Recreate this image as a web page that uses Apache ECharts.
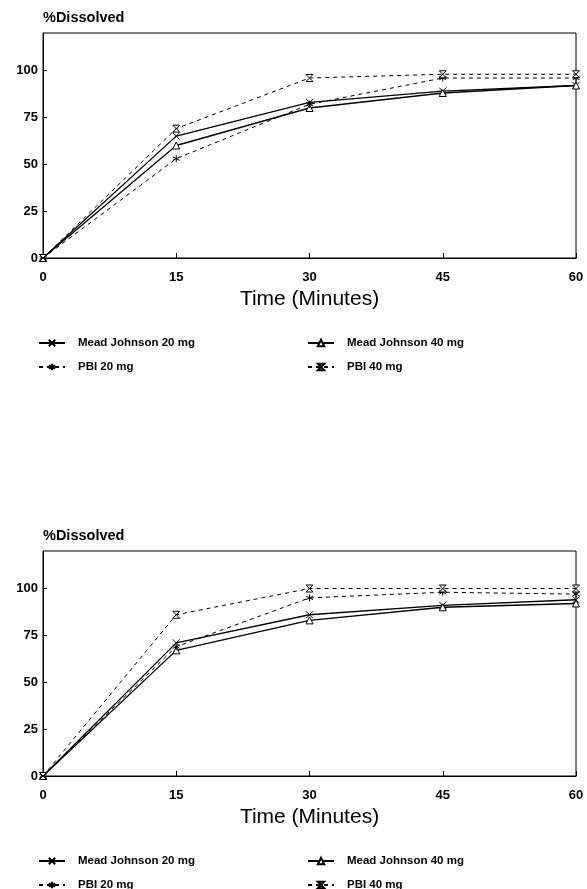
<!DOCTYPE html>
<html>
<head>
<meta charset="utf-8">
<script src="https://cdn.jsdelivr.net/npm/echarts@6/dist/echarts.min.js"></script>
<style>
  html, body { margin: 0; padding: 0; background: #fff; }
  .chart { position: absolute; left: 0; width: 587px; }
  #top { top: 0; height: 445px; }
  #bottom { top: 445px; height: 444px; }
</style>
</head>
<body>
<div id="top" class="chart"></div>
<div id="bottom" class="chart"></div>
<script>
// time points (minutes)
const times = [0, 15, 30, 45, 60];
const xTicks = [0, 15, 30, 45, 60];
const yTicks = [0, 25, 50, 75, 100];

// upper panel
const mj20Top = [0, 65, 83, 89, 92];
const mj40Top = [0, 60, 80, 88, 92];
const pbi20Top = [0, 53, 82, 96, 96];
const pbi40Top = [0, 69, 96, 98, 98];

// lower panel
const mj20Bottom = [0, 71, 86, 91, 94];
const mj40Bottom = [0, 67, 83, 90, 92];
const pbi20Bottom = [0, 69, 95, 98, 97];
const pbi40Bottom = [0, 86, 100, 100, 100];

const seriesNames = ['Mead Johnson 20 mg', 'Mead Johnson 40 mg', 'PBI 20 mg', 'PBI 40 mg'];

const FONT = 'Liberation Sans, Arial, sans-serif';

// marker shapes
const symX = 'path://M0,0L10,10M10,0L0,10';
const symStar = 'path://M5,0L5,10M0,2.5L10,7.5M0,7.5L10,2.5';
const symHour = 'path://M0,0L10,0L0,10L10,10Z';

function pairs(values) {
  return times.map((t, i) => [t, values[i]]);
}

function makeSeries(name, values, symbol, dashed, fill) {
  return {
    name: name,
    type: 'line',
    data: pairs(values),
    symbol: symbol,
    symbolSize: 7,
    showSymbol: true,
    animation: false,
    lineStyle: {
      color: '#000',
      width: dashed ? 1 : 1.3,
      type: dashed ? [4, 4] : 'solid',
    },
    itemStyle: {
      color: fill,
      borderColor: '#000',
      borderWidth: 1,
    },
  };
}

function legendAt(name, left, top) {
  return {
    data: [name],
    left: left,
    top: top,
    itemWidth: 26,
    itemHeight: 8,
    selectedMode: false,
    textStyle: {
      fontFamily: FONT,
      fontSize: 11.5,
      fontWeight: 'bold',
      color: '#000',
      padding: [0, 0, 0, 8],
    },
  };
}

function buildOption(gridTop, data) {
  const axisBottom = gridTop + 225;
  return {
    backgroundColor: '#fff',
    title: {
      text: '%Dissolved',
      left: 38,
      top: gridTop - 28,
      textStyle: { fontFamily: FONT, fontSize: 14.5, fontWeight: 'bold', color: '#000' },
    },
    legend: [
      legendAt(seriesNames[0], 33, axisBottom + 74),
      legendAt(seriesNames[1], 302, axisBottom + 74),
      legendAt(seriesNames[2], 33, axisBottom + 98),
      legendAt(seriesNames[3], 302, axisBottom + 98),
    ],
    grid: {
      left: 43,
      right: 11,
      top: gridTop,
      height: 225,
      show: true,
      borderColor: '#000',
      borderWidth: 1,
    },
    xAxis: {
      type: 'value',
      min: 0,
      max: 60,
      interval: 15,
      name: 'Time (Minutes)',
      nameLocation: 'middle',
      nameGap: 31,
      nameTextStyle: { fontFamily: FONT, fontSize: 21, color: '#000' },
      axisLine: { lineStyle: { color: '#000', width: 1 } },
      axisTick: { inside: true, length: 5, lineStyle: { color: '#000' } },
      axisLabel: {
        fontFamily: FONT, fontSize: 13, fontWeight: 'bold', color: '#000', margin: 13,
        formatter: (v) => (xTicks.includes(v) ? String(v) : ''),
      },
      splitLine: { show: false },
    },
    yAxis: {
      type: 'value',
      min: 0,
      max: 120,
      interval: 25,
      axisLine: { show: true, lineStyle: { color: '#000', width: 1 } },
      axisTick: { inside: true, length: 4, lineStyle: { color: '#000' } },
      axisLabel: {
        fontFamily: FONT, fontSize: 13, fontWeight: 'bold', color: '#000', margin: 5,
        showMaxLabel: false,
        formatter: (v) => (yTicks.includes(v) ? String(v) : ''),
      },
      splitLine: { show: false },
    },
    series: [
      makeSeries(seriesNames[0], data[0], symX, false, '#000'),
      makeSeries(seriesNames[1], data[1], 'triangle', false, '#fff'),
      makeSeries(seriesNames[2], data[2], symStar, true, '#000'),
      makeSeries(seriesNames[3], data[3], symHour, true, '#fff'),
    ],
  };
}

const topChart = echarts.init(document.getElementById('top'));
topChart.setOption(buildOption(33, [mj20Top, mj40Top, pbi20Top, pbi40Top]));

const bottomChart = echarts.init(document.getElementById('bottom'));
bottomChart.setOption(buildOption(106, [mj20Bottom, mj40Bottom, pbi20Bottom, pbi40Bottom]));

window.addEventListener('resize', () => {
  topChart.resize();
  bottomChart.resize();
});
</script>
</body>
</html>
